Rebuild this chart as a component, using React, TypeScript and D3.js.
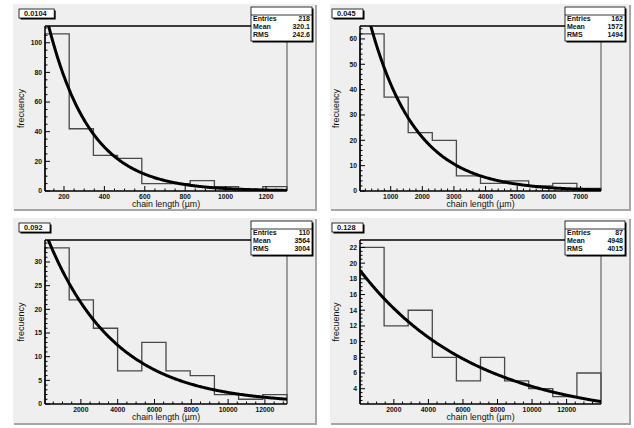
import React from 'react';
import * as d3 from 'd3';

// Title-box labels of the four pads
const padTitles = ['0.0104', '0.045', '0.092', '0.128'];

// Statistics box contents
const statEntries = ['218', '162', '110', '87'];
const statMeans = ['320.1', '1572', '3564', '4948'];
const statRms = ['242.6', '1494', '3004', '4015'];

// Bin contents, 10 equal-width bins per histogram
const counts0104 = [106, 42, 24, 22, 5, 5, 7, 3, 1, 3];
const counts045 = [62, 37, 23, 20, 6, 3, 4, 2, 3, 1];
const counts092 = [33, 22, 16, 7, 13, 7, 6, 2, 1, 2];
const counts128 = [22, 12, 14, 8, 5, 8, 5, 4, 3, 6];

// Histogram x ranges (chain length, µm)
const range0104 = [106, 1304];
const range045 = [30, 7650];
const range092 = [50, 13200];
const range128 = [40, 13990];

// Vertical ranges of the frames
const yRange0104 = [0, 111.3];
const yRange045 = [0, 65.1];
const yRange092 = [0, 34.65];
const yRange128 = [2.05, 22.95];

// Exponential fits: f(x) = amp * exp(-slope * x)
const fitAmp = [202, 84.1, 36.9, 19.2];
const fitSlope = [0.0048, 0.000689, 0.000272, 0.00015];

// Labelled ticks
const xTicks0104 = [200, 400, 600, 800, 1000, 1200];
const xTicks045 = [1000, 2000, 3000, 4000, 5000, 6000, 7000];
const xTicks092 = [2000, 4000, 6000, 8000, 10000, 12000];
const xTicks128 = [2000, 4000, 6000, 8000, 10000, 12000];
const yTicks0104 = [0, 20, 40, 60, 80, 100];
const yTicks045 = [0, 10, 20, 30, 40, 50, 60];
const yTicks092 = [0, 5, 10, 15, 20, 25, 30];
const yTicks128 = [4, 6, 8, 10, 12, 14, 16, 18, 20, 22];

// Minor tick spacing per pad
const xMinorStep = [50, 200, 500, 500];
const yMinorStep = [5, 2, 1, 0.5];

const panels = [
  { counts: counts0104, range: range0104, yRange: yRange0104, xTicks: xTicks0104, yTicks: yTicks0104 },
  { counts: counts045, range: range045, yRange: yRange045, xTicks: xTicks045, yTicks: yTicks045 },
  { counts: counts092, range: range092, yRange: yRange092, xTicks: xTicks092, yTicks: yTicks092 },
  { counts: counts128, range: range128, yRange: yRange128, xTicks: xTicks128, yTicks: yTicks128 },
];

// Pad geometry: [x, y, w, h]
const layout = [
  { pad: [13, 4, 304, 207], frame: [45, 26, 242, 165], title: [19, 9], stats: [251, 7, 61, 34] },
  { pad: [330, 4, 301, 207], frame: [360, 26, 241, 165], title: [332, 9], stats: [565, 7, 60, 34] },
  { pad: [13, 218, 304, 207], frame: [45, 240, 242, 164], title: [19, 223], stats: [251, 221, 61, 34] },
  { pad: [330, 218, 301, 207], frame: [360, 240, 241, 164], title: [332, 223], stats: [565, 221, 60, 34] },
];

const FONT = "'Liberation Sans', Arial, Helvetica, sans-serif";
const PAD_FILL = '#efefef';

function minorValues(lo: number, hi: number, step: number) {
  const out: number[] = [];
  const start = Math.ceil(lo / step - 1e-9) * step;
  for (let v = start; v <= hi + 1e-9; v += step) out.push(v);
  return out;
}

function Panel({ i }: { i: number }) {
  const P = panels[i];
  const L = layout[i];
  const [px, py, pw, ph] = L.pad;
  const [fx, fy, fw, fh] = L.frame;
  const x = d3.scaleLinear().domain(P.range).range([fx, fx + fw]);
  const y = d3.scaleLinear().domain(P.yRange).range([fy + fh, fy]);
  const nb = P.counts.length;
  const bw = (P.range[1] - P.range[0]) / nb;
  const edges = d3.range(nb + 1).map((k) => P.range[0] + k * bw);
  const yBase = P.yRange[0];

  // Histogram outline
  let hist = `M${x(edges[0])},${y(yBase)}`;
  P.counts.forEach((c, k) => {
    hist += `V${y(c)}H${x(edges[k + 1])}`;
  });
  hist += `V${y(yBase)}`;

  // Fit curve
  const xs = d3.range(0, 301).map((k) => P.range[0] + (k / 300) * (P.range[1] - P.range[0]));
  const fitLine = d3
    .line<number>()
    .x((v) => x(v))
    .y((v) => y(fitAmp[i] * Math.exp(-fitSlope[i] * v)))(xs);

  const xMinor = minorValues(P.range[0], P.range[1], xMinorStep[i]);
  const yMinor = minorValues(P.yRange[0], P.yRange[1], yMinorStep[i]);
  const isMajorX = (v: number) => P.xTicks.some((t) => Math.abs(t - v) < 1e-6);
  const isMajorY = (v: number) => P.yTicks.some((t) => Math.abs(t - v) < 1e-6);

  const [tx, ty] = L.title;
  const title = padTitles[i];
  const tw = title.length * 4.2 + 10;
  const [sx, sy, sw, sh] = L.stats;
  const clipId = `frame-clip-${i}`;
  const fb = fy + fh;

  return (
    <g>
      {/* pad */}
      <rect x={px} y={py} width={pw - 2} height={ph - 2} fill={PAD_FILL} />
      <rect x={px + pw - 2} y={py + 1} width={2} height={ph - 1} fill="#a6a6a6" />
      <rect x={px + 1} y={py + ph - 2} width={pw - 1} height={2} fill="#a6a6a6" />

      <defs>
        <clipPath id={clipId}>
          <rect x={fx} y={fy} width={fw} height={fh} />
        </clipPath>
      </defs>

      {/* frame */}
      <line x1={fx} x2={fx + fw} y1={fy} y2={fy} stroke="#000" strokeWidth={1.4} />
      <line x1={fx + fw} x2={fx + fw} y1={fy} y2={fb} stroke="#7a7a7a" strokeWidth={1.4} />

      {/* histogram */}
      <path d={hist} fill="none" stroke="#4a4a4a" strokeWidth={1.3} />

      {/* fit */}
      <path d={fitLine ?? ''} fill="none" stroke="#000" strokeWidth={3} clipPath={`url(#${clipId})`} />

      {/* x axis */}
      <line x1={fx} x2={fx + fw} y1={fb} y2={fb} stroke="#000" strokeWidth={1.5} />
      {xMinor.map((v) => (
        <line key={`xm${v}`} x1={x(v)} x2={x(v)} y1={fb} y2={fb - (isMajorX(v) ? 5 : 2.5)} stroke="#000" strokeWidth={1} />
      ))}
      {P.xTicks.map((v) => (
        <text key={`xl${v}`} x={x(v)} y={fb + 7.5} fontSize={6.8} fontWeight="bold" fontFamily={FONT} textAnchor="middle" fill="#111">
          {v}
        </text>
      ))}
      <text x={fx + fw / 2} y={fb + 16} fontSize={8.8} fontFamily={FONT} textAnchor="middle" fill="#111">
        chain length (µm)
      </text>

      {/* y axis */}
      <line x1={fx} x2={fx} y1={fy} y2={fb} stroke="#000" strokeWidth={1.5} />
      {yMinor.map((v) => (
        <line key={`ym${v}`} x1={fx} x2={fx + (isMajorY(v) ? 5 : 2.5)} y1={y(v)} y2={y(v)} stroke="#000" strokeWidth={1} />
      ))}
      {P.yTicks.map((v) => (
        <text key={`yl${v}`} x={fx - 3} y={y(v) + 2.4} fontSize={6.8} fontWeight="bold" fontFamily={FONT} textAnchor="end" fill="#111">
          {v}
        </text>
      ))}
      <text
        transform={`translate(${fx - 21},${fy + fh / 2}) rotate(-90)`}
        fontSize={9}
        fontFamily={FONT}
        textAnchor="middle"
        fill="#111"
      >
        frecuency
      </text>

      {/* title box */}
      <rect x={tx + 1.5} y={ty + 1.5} width={tw} height={9} fill="#000" />
      <rect x={tx} y={ty} width={tw} height={9} fill="#fff" stroke="#000" strokeWidth={0.8} />
      <text x={tx + 5} y={ty + 7.3} fontSize={7.4} fontWeight="bold" fontFamily={FONT} fill="#111">
        {title}
      </text>

      {/* statistics box */}
      <rect x={sx + 1.5} y={sy + 1.5} width={sw} height={sh} fill="#000" />
      <rect x={sx} y={sy} width={sw} height={sh} fill="#fff" stroke="#000" strokeWidth={0.8} />
      <line x1={sx} x2={sx + sw} y1={sy + 8} y2={sy + 8} stroke="#000" strokeWidth={0.8} />
      {[
        ['Entries', statEntries[i]],
        ['Mean', statMeans[i]],
        ['RMS', statRms[i]],
      ].map(([label, val], k) => (
        <g key={label}>
          <text x={sx + 2} y={sy + 14 + k * 8} fontSize={7} fontWeight="bold" fontFamily={FONT} fill="#111">
            {label}
          </text>
          <text x={sx + sw - 2} y={sy + 14 + k * 8} fontSize={7} fontWeight="bold" fontFamily={FONT} textAnchor="end" fill="#111">
            {val}
          </text>
        </g>
      ))}
    </g>
  );
}

export default function App() {
  return (
    <div style={{ position: 'fixed', left: 0, top: 0 }}>
      <svg width={634} height={428} style={{ display: 'block', background: '#fff' }}>
        {panels.map((_, i) => (
          <Panel key={i} i={i} />
        ))}
      </svg>
    </div>
  );
}
